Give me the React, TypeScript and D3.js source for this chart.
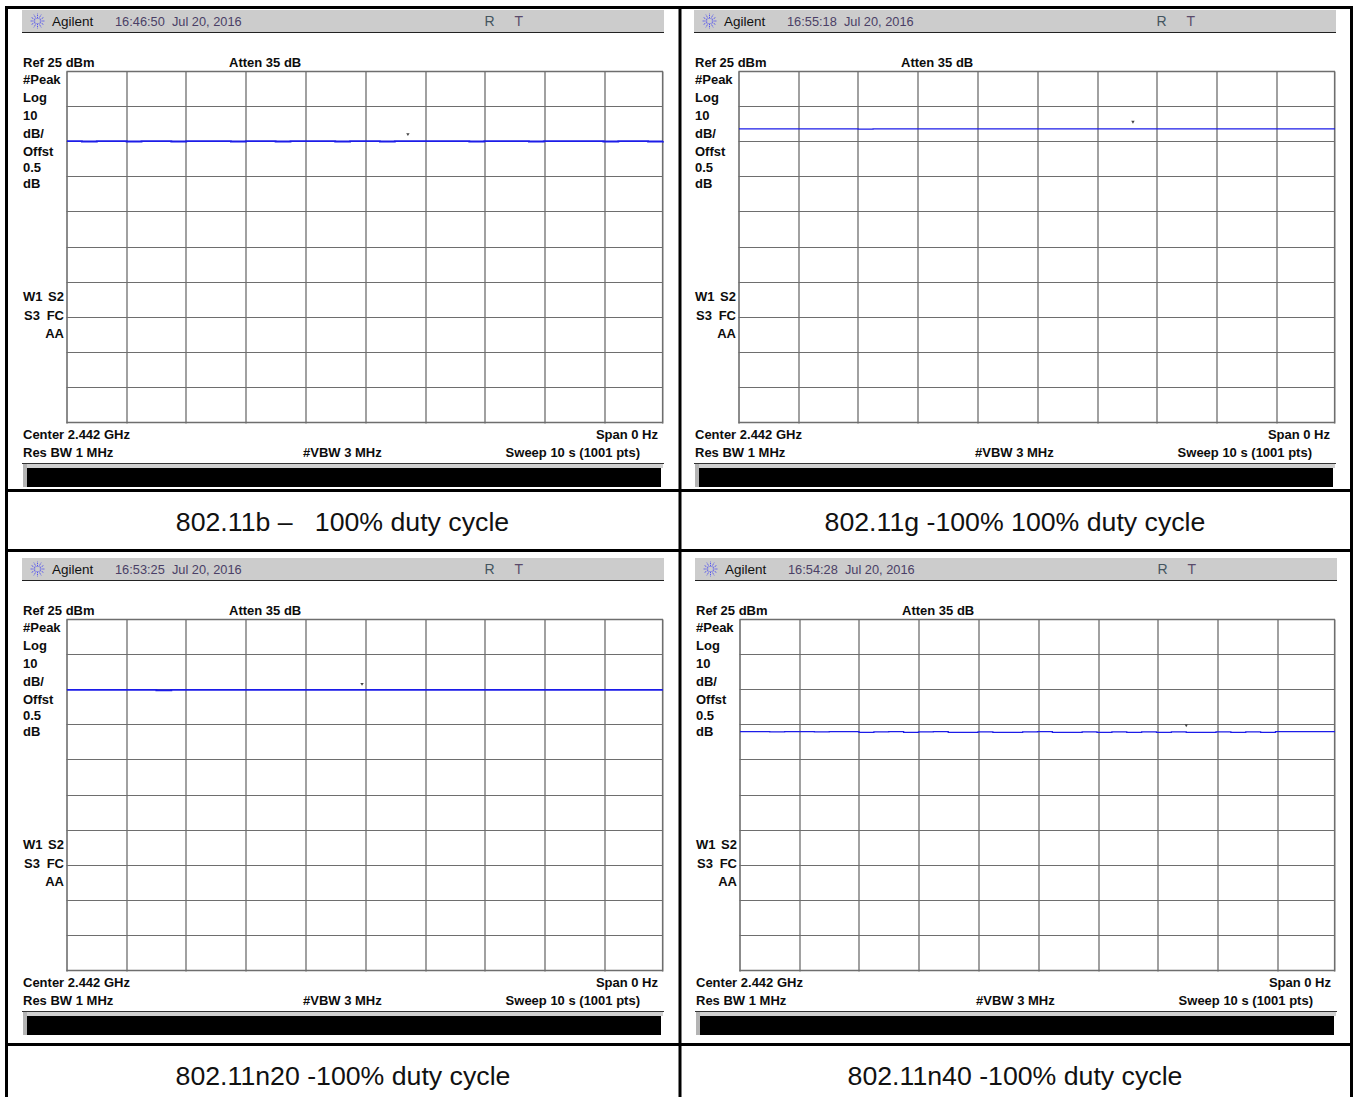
import * as d3 from 'd3';
import { useEffect, useRef } from 'react';

const WIDTH = 1357;
const HEIGHT = 1097;

const CLOCKS = ['16:46:50  Jul 20, 2016', '16:55:18  Jul 20, 2016', '16:53:25  Jul 20, 2016', '16:54:28  Jul 20, 2016'];
const CAPTIONS = ['802.11b \u2013   100% duty cycle', '802.11g -100% 100% duty cycle', '802.11n20 -100% duty cycle', '802.11n40 -100% duty cycle'];
const LEFT_LABELS = ['#Peak', 'Log', '10', 'dB/', 'Offst', '0.5', 'dB'];

// trace levels in dBm, one reading per 0.25 s of the 10 s sweep
const TRACE_B = [5.3, 5.2, 5.3, 5.3, 5.2, 5.3, 5.3, 5.2, 5.3, 5.3, 5.3, 5.2, 5.3, 5.3, 5.2, 5.3, 5.3, 5.3, 5.2, 5.3, 5.3, 5.2, 5.3, 5.3, 5.3, 5.3, 5.3, 5.2, 5.3, 5.3, 5.3, 5.2, 5.3, 5.3, 5.3, 5.3, 5.2, 5.3, 5.3, 5.2, 5.3];
const TRACE_G = [8.8, 8.8, 8.8, 8.8, 8.8, 8.8, 8.8, 8.8, 8.7, 8.8, 8.8, 8.8, 8.8, 8.8, 8.8, 8.8, 8.8, 8.8, 8.8, 8.8, 8.8, 8.8, 8.8, 8.8, 8.8, 8.8, 8.8, 8.8, 8.8, 8.8, 8.8, 8.8, 8.8, 8.8, 8.8, 8.8, 8.8, 8.8, 8.8, 8.8, 8.8];
const TRACE_N20 = [5.1, 5.1, 5.1, 5.1, 5.1, 5.1, 5.0, 5.1, 5.1, 5.1, 5.1, 5.1, 5.1, 5.1, 5.1, 5.1, 5.1, 5.1, 5.1, 5.1, 5.1, 5.1, 5.1, 5.1, 5.1, 5.1, 5.1, 5.1, 5.1, 5.1, 5.1, 5.1, 5.1, 5.1, 5.1, 5.1, 5.1, 5.1, 5.1, 5.1, 5.1];
const TRACE_N40 = [-6.8, -6.8, -6.9, -6.8, -6.8, -6.9, -6.8, -6.8, -7.0, -6.9, -6.8, -7.0, -6.9, -6.8, -7.0, -7.0, -6.9, -7.0, -7.0, -6.9, -6.8, -7.0, -7.0, -6.9, -7.0, -6.9, -7.0, -6.9, -7.0, -6.9, -7.0, -7.0, -6.9, -7.0, -6.9, -7.0, -6.8, -6.8, -6.8, -6.8, -6.8];
const TRACES = [TRACE_B, TRACE_G, TRACE_N20, TRACE_N40];

// marker position: seconds into the sweep, dBm
const MARKER_TIMES = [5.72, 6.61, 4.95, 7.5];
const MARKER_LEVELS = [7.3, 10.8, 6.8, -5];

const SWEEP_SECONDS = [0, 10];
const LEVEL_RANGE = [25, -75];
const LEVEL_GRID = [25, 15, 5, -5, -15, -25, -35, -45, -55, -65, -75];

// page layout of each panel: offset from the first panel, plot width, caption place
const PANELS = [
  { dx: 0, dy: 0, plotW: 596, capX: 342.5, capY: 531 },
  { dx: 672, dy: 0, plotW: 596, capX: 1015, capY: 531 },
  { dx: 0, dy: 548, plotW: 596, capX: 343, capY: 1085 },
  { dx: 673, dy: 548, plotW: 595, capX: 1015, capY: 1085 },
];

const FONT = '"Liberation Sans", Arial, sans-serif';

function App() {
  const svgRef = useRef<SVGSVGElement>(null);

  useEffect(() => {
    if (!svgRef.current) { return; }
    const svg = d3.select(svgRef.current);
    svg.selectAll('*').remove();

    svg.append('rect').attr('width', WIDTH).attr('height', HEIGHT).attr('fill', '#fff');

    PANELS.forEach((panel, idx) => {
      const group = svg.append('g').attr('transform', `translate(${panel.dx},${panel.dy})`);

      const label = (text: string, x: number, y: number, anchor = 'start') =>
        group.append('text')
          .attr('x', x)
          .attr('y', y)
          .attr('text-anchor', anchor)
          .attr('font-family', FONT)
          .attr('font-weight', 700)
          .attr('font-size', 13)
          .attr('fill', '#0c0c0c')
          .style('white-space', 'pre')
          .text(text);

      // header strip
      group.append('rect').attr('x', 22).attr('y', 10).attr('width', 642).attr('height', 22).attr('fill', '#cccccc');
      group.append('line').attr('x1', 22).attr('x2', 664).attr('y1', 32.5).attr('y2', 32.5).attr('stroke', '#222').attr('stroke-width', 1);

      const star = group.append('g').attr('transform', 'translate(37.5,21)');
      d3.range(12).forEach((step) => {
        const angle = step * Math.PI / 6;
        star.append('line')
          .attr('x1', Math.cos(angle) * 2.5)
          .attr('y1', Math.sin(angle) * 2.5)
          .attr('x2', Math.cos(angle) * 7.5)
          .attr('y2', Math.sin(angle) * 7.5)
          .attr('stroke', '#4a4af0')
          .attr('stroke-width', 0.9)
          .attr('stroke-dasharray', '1.5 0.8');
      });

      group.append('text').attr('x', 52).attr('y', 26).attr('font-family', FONT).attr('font-size', 13.5).attr('fill', '#111').text('Agilent');
      group.append('text').attr('x', 115).attr('y', 26).attr('font-family', FONT).attr('font-size', 12.8).attr('fill', '#4a3f66')
        .style('white-space', 'pre').text(CLOCKS[idx]);
      group.append('text').attr('x', 484.5).attr('y', 26).attr('font-family', FONT).attr('font-size', 14).attr('fill', '#44555f').text('R');
      group.append('text').attr('x', 514.5).attr('y', 26).attr('font-family', FONT).attr('font-size', 14).attr('fill', '#5a4a6a').text('T');

      // labels above and beside the plot
      label('Ref 25 dBm', 23, 67);
      label('Atten 35 dB', 229, 67);
      const leftY = [84, 102, 120, 138, 156, 172, 188];
      LEFT_LABELS.forEach((text, i) => label(text, 23, leftY[i]));
      label('W1', 23, 301);
      label('S2', 64, 301, 'end');
      label('S3', 24, 320);
      label('FC', 64, 320, 'end');
      label('AA', 64, 338, 'end');

      // plot; the screen's grid pitch overruns the right frame by a couple of pixels
      const x = d3.scaleLinear().domain(SWEEP_SECONDS).range([67, 67 + panel.plotW]);
      const gridX = d3.scaleLinear().domain(SWEEP_SECONDS).range([66.7, 664.7]);
      const y = d3.scaleLinear().domain(LEVEL_RANGE).range([72, 423]);

      const grid = group.append('g').attr('stroke', '#6e6e6e');
      x.ticks(10).forEach((tick, i) => {
        const gx = i === 10 ? 66.7 + panel.plotW : Math.round(gridX(tick));
        grid.append('line')
          .attr('x1', gx)
          .attr('x2', gx)
          .attr('y1', 71.5)
          .attr('y2', 423.5)
          .attr('stroke-width', i === 0 || i === 10 ? 1.6 : 1.3);
      });
      LEVEL_GRID.forEach((tick, i) => {
        const gy = Math.round(y(tick)) - 0.5;
        grid.append('line')
          .attr('x1', 66.5)
          .attr('x2', 67 + panel.plotW)
          .attr('y1', gy)
          .attr('y2', gy)
          .attr('stroke-width', i === 0 || i === 10 ? 1.6 : 1.1);
      });

      const trace = TRACES[idx];
      const lineGen = d3.line<number>()
        .x((_, i) => x(i / (trace.length - 1) * SWEEP_SECONDS[1]))
        .y((d) => y(d))
        .curve(d3.curveStepAfter);
      group.append('path')
        .attr('d', lineGen(trace))
        .attr('fill', 'none')
        .attr('stroke', '#1c1ce8')
        .attr('stroke-width', idx === 0 || idx === 2 ? 1.9 : 1.3);

      // marker tick
      group.append('path')
        .attr('d', d3.symbol(d3.symbolTriangle, 5)())
        .attr('transform', `translate(${x(MARKER_TIMES[idx])},${y(MARKER_LEVELS[idx])}) rotate(180)`)
        .attr('fill', '#444');

      // labels below the plot
      label('Center 2.442 GHz', 23, 439);
      label('Span 0 Hz', 658, 439, 'end');
      label('Res BW 1 MHz', 23, 457);
      label('#VBW 3 MHz', 303, 457);
      label('Sweep 10 s (1001 pts)', 640, 457, 'end');

      // status bar
      group.append('line').attr('x1', 22).attr('x2', 664).attr('y1', 463.5).attr('y2', 463.5).attr('stroke', '#333').attr('stroke-width', 1);
      group.append('rect').attr('x', 23).attr('y', 464).attr('width', 640).attr('height', 4).attr('fill', '#d0d0d0');
      group.append('rect').attr('x', 23).attr('y', 464).attr('width', 4).attr('height', 23).attr('fill', '#b4b4b4');
      group.append('rect').attr('x', 27).attr('y', 468).attr('width', 634).attr('height', 19).attr('fill', '#000');

      svg.append('text')
        .attr('x', panel.capX)
        .attr('y', panel.capY)
        .attr('text-anchor', 'middle')
        .attr('font-family', FONT)
        .attr('font-size', 26.7)
        .attr('fill', '#111')
        .style('white-space', 'pre')
        .text(CAPTIONS[idx]);
    });

    // table rules
    const rules = svg.append('g').attr('stroke', '#000').attr('stroke-width', 3);
    [7.5, 490.5, 550.5, 1044.5].forEach((ruleY) => {
      rules.append('line').attr('x1', 5).attr('x2', 1353).attr('y1', ruleY).attr('y2', ruleY);
    });
    [6.5, 680, 1351.5].forEach((ruleX) => {
      rules.append('line').attr('x1', ruleX).attr('x2', ruleX).attr('y1', 6).attr('y2', HEIGHT);
    });
  }, []);

  return (
    <svg
      ref={svgRef}
      width={WIDTH}
      height={HEIGHT}
      aria-label="Spectrum analyser screenshots at 100% duty cycle"
      style={{ display: 'block', position: 'absolute', left: 0, top: 0 }}
    />
  );
}

export default App;
